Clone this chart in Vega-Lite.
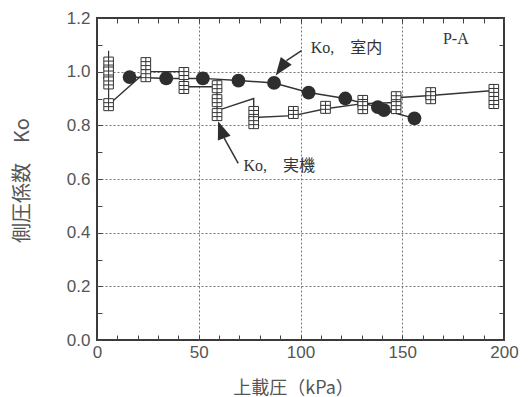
{
  "$schema": "https://vega.github.io/schema/vega-lite/v6.json",
  "width": 407,
  "height": 322,
  "autosize": {"type": "none"},
  "padding": {"left": 97, "top": 18, "right": 26, "bottom": 57},
  "background": "white",
  "config": {
    "view": {"stroke": "#3a3a3a", "strokeWidth": 2},
    "font": "Liberation Sans"
  },
  "datasets": {
    "lab": [
      {"x": 16, "y": 0.98}, {"x": 34, "y": 0.975}, {"x": 52, "y": 0.975},
      {"x": 69.5, "y": 0.967}, {"x": 87, "y": 0.958}, {"x": 104, "y": 0.922},
      {"x": 122, "y": 0.9}, {"x": 138, "y": 0.868}, {"x": 141, "y": 0.857},
      {"x": 156, "y": 0.826}
    ],
    "field_pts": [
      {"x": 5.7, "y": 1.032}, {"x": 5.7, "y": 0.995}, {"x": 5.7, "y": 0.958}, {"x": 5.7, "y": 0.877},
      {"x": 24, "y": 1.03}, {"x": 24, "y": 0.985},
      {"x": 42.7, "y": 0.993}, {"x": 42.7, "y": 0.941},
      {"x": 59, "y": 0.944}, {"x": 59, "y": 0.892}, {"x": 59, "y": 0.84},
      {"x": 77, "y": 0.848}, {"x": 77, "y": 0.81},
      {"x": 96.5, "y": 0.848},
      {"x": 112.3, "y": 0.867},
      {"x": 130.6, "y": 0.889}, {"x": 130.6, "y": 0.866},
      {"x": 147, "y": 0.903}, {"x": 147, "y": 0.866},
      {"x": 164, "y": 0.918}, {"x": 164, "y": 0.903},
      {"x": 195, "y": 0.93}, {"x": 195, "y": 0.885}
    ],
    "field_line": [
      {"i": 1, "x": 5.7, "y": 0.877}, {"i": 2, "x": 24, "y": 1.0},
      {"i": 3, "x": 42.7, "y": 1.0}, {"i": 4, "x": 42.7, "y": 0.944},
      {"i": 5, "x": 59, "y": 0.944}, {"i": 6, "x": 59, "y": 0.855},
      {"i": 7, "x": 77, "y": 0.9}, {"i": 8, "x": 77, "y": 0.829},
      {"i": 9, "x": 96.5, "y": 0.836}, {"i": 10, "x": 112.3, "y": 0.862},
      {"i": 11, "x": 130.6, "y": 0.881}, {"i": 12, "x": 147, "y": 0.885},
      {"i": 13, "x": 147, "y": 0.903}, {"i": 14, "x": 164, "y": 0.911},
      {"i": 15, "x": 195, "y": 0.93}
    ],
    "whisker": [{"x": 5.7, "y": 1.078, "y2": 0.877}],
    "arrow_lines": [
      {"x": 93.1, "y": 1.041, "x2": 100.5, "y2": 1.078},
      {"x": 62.5, "y": 0.752, "x2": 69.4, "y2": 0.658}
    ],
    "head_lab": [{"x": 90.4, "y": 1.013}],
    "head_field": [{"x": 61, "y": 0.784}],
    "notes": [
      {"x": 105, "y": 1.09, "label": "Ko,　室内"},
      {"x": 72, "y": 0.65, "label": "Ko,　実機"},
      {"x": 170, "y": 1.123, "label": "P-A"}
    ]
  },
  "encoding": {
    "x": {"field": "x", "type": "quantitative", "scale": {"domain": [0, 200], "nice": false, "zero": false}, "axis": null},
    "y": {"field": "y", "type": "quantitative", "scale": {"domain": [0, 1.2], "nice": false, "zero": false}, "axis": null}
  },
  "layer": [
    {
      "data": {"name": "lab"},
      "mark": {"type": "line", "color": "#333", "strokeWidth": 1.5},
      "encoding": {
        "x": {
          "field": "x", "type": "quantitative",
          "scale": {"domain": [0, 200], "nice": false, "zero": false},
          "axis": {
            "orient": "bottom",
            "title": "上載圧（kPa）",
            "titleFont": "Noto Sans CJK JP",
            "titleFontSize": 18,
            "titleFontWeight": "normal",
            "titleColor": "#555",
            "titleBaseline": "middle",
            "titleAlign": "center",
            "titleX": 196,
            "titleY": 48,
            "values": [0, 10, 20, 30, 40, 50, 60, 70, 80, 90, 100, 110, 120, 130, 140, 150, 160, 170, 180, 190, 200],
            "labelExpr": "datum.value % 50 === 0 ? datum.label : ''",
            "labelFont": "Liberation Sans",
            "labelFontSize": 17,
            "labelColor": "#555",
            "labelPadding": 9,
            "labelOverlap": false,
            "labelFlush": false,
            "domain": false,
            "tickSize": -5,
            "tickColor": "#444",
            "tickWidth": 1,
            "grid": true,
            "gridColor": "#777",
            "gridDash": [2, 2],
            "gridWidth": 1,
            "gridOpacity": {"condition": {"test": "datum.value % 50 === 0 && datum.value > 0 && datum.value < 200", "value": 1}, "value": 0}
          }
        },
        "y": {
          "field": "y", "type": "quantitative",
          "scale": {"domain": [0, 1.2], "nice": false, "zero": false},
          "axis": {
            "orient": "left",
            "title": "側圧係数　Ko",
            "titleFont": "Noto Sans CJK JP",
            "titleFontSize": 20,
            "titleFontWeight": "normal",
            "titleColor": "#555",
            "titleAngle": -90,
            "titleBaseline": "middle",
            "titleAlign": "center",
            "titleX": -75,
            "titleY": 162,
            "values": [0, 0.1, 0.2, 0.3, 0.4, 0.5, 0.6, 0.7, 0.8, 0.9, 1.0, 1.1, 1.2],
            "labelExpr": "round(datum.value * 10) % 2 === 0 ? format(datum.value, '.1f') : ''",
            "labelFont": "Liberation Sans",
            "labelFontSize": 17,
            "labelColor": "#555",
            "labelPadding": 12,
            "labelOverlap": false,
            "labelFlush": false,
            "domain": false,
            "tickSize": -5,
            "tickColor": "#444",
            "tickWidth": 1,
            "grid": true,
            "gridColor": "#777",
            "gridDash": [2, 2],
            "gridWidth": 1,
            "gridOpacity": {"condition": {"test": "round(datum.value * 10) % 2 === 0 && datum.value > 0.05 && datum.value < 1.15", "value": 1}, "value": 0}
          }
        }
      }
    },
    {
      "data": {"name": "field_line"},
      "mark": {"type": "line", "color": "#333", "strokeWidth": 1.4},
      "encoding": {
        "order": {"field": "i", "type": "quantitative"},
        "x": {
          "field": "x", "type": "quantitative",
          "scale": {"domain": [0, 200], "nice": false, "zero": false},
          "axis": {
            "orient": "top", "title": null, "labels": false, "domain": false, "grid": false,
            "values": [0, 10, 20, 30, 40, 50, 60, 70, 80, 90, 100, 110, 120, 130, 140, 150, 160, 170, 180, 190, 200],
            "tickSize": -5, "tickColor": "#444", "tickWidth": 1
          }
        },
        "y": {
          "field": "y", "type": "quantitative",
          "scale": {"domain": [0, 1.2], "nice": false, "zero": false},
          "axis": {
            "orient": "right", "title": null, "labels": false, "domain": false, "grid": false,
            "values": [0, 0.1, 0.2, 0.3, 0.4, 0.5, 0.6, 0.7, 0.8, 0.9, 1.0, 1.1, 1.2],
            "tickSize": -5, "tickColor": "#444", "tickWidth": 1
          }
        }
      }
    },
    {
      "data": {"name": "whisker"},
      "mark": {"type": "rule", "color": "#333", "strokeWidth": 1.2},
      "encoding": {"y2": {"field": "y2"}}
    },
    {
      "data": {"name": "field_pts"},
      "mark": {
        "type": "point",
        "shape": "M-0.8,-1H0.8V1H-0.8Z M0,-1V1 M-0.8,-0.33H0.8 M-0.8,0.33H0.8",
        "size": 144,
        "fill": "white",
        "fillOpacity": 1,
        "stroke": "#333",
        "strokeWidth": 1,
        "opacity": 1
      }
    },
    {
      "data": {"name": "lab"},
      "mark": {"type": "point", "shape": "circle", "size": 190, "filled": true, "color": "#2e2e2e", "opacity": 1}
    },
    {
      "data": {"name": "arrow_lines"},
      "mark": {"type": "rule", "color": "#333", "strokeWidth": 1.5},
      "encoding": {"x2": {"field": "x2"}, "y2": {"field": "y2"}}
    },
    {
      "data": {"name": "head_lab"},
      "mark": {"type": "point", "shape": "M0,-1L0.75,1L-0.75,1Z", "size": 324, "angle": 216, "filled": true, "color": "#2e2e2e", "opacity": 1}
    },
    {
      "data": {"name": "head_field"},
      "mark": {"type": "point", "shape": "M0,-1L0.75,1L-0.75,1Z", "size": 324, "angle": 340, "filled": true, "color": "#2e2e2e", "opacity": 1}
    },
    {
      "data": {"name": "notes"},
      "mark": {"type": "text", "align": "left", "baseline": "middle", "font": "Liberation Serif, Noto Sans CJK JP", "fontSize": 16, "color": "#333"},
      "encoding": {"text": {"field": "label"}}
    }
  ],
  "resolve": {"axis": {"x": "independent", "y": "independent"}}
}
